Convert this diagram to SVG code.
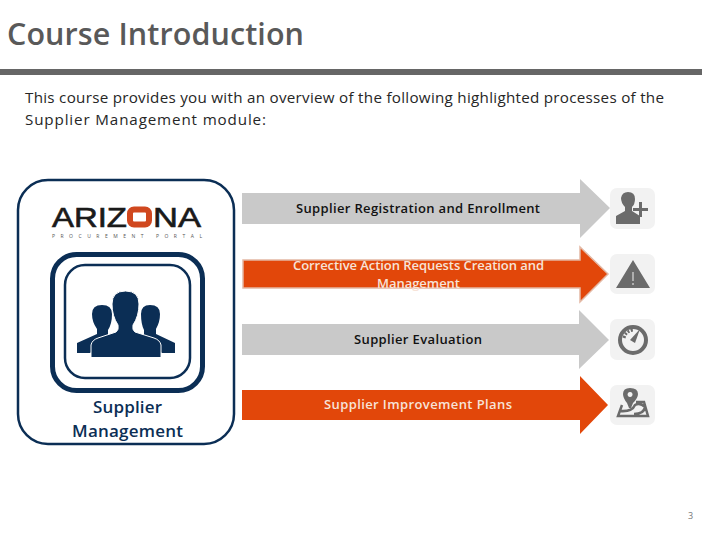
<svg xmlns="http://www.w3.org/2000/svg" width="720" height="540" viewBox="0 0 720 540">
<style>
text{font-family:"Open Sans","Noto Sans","DejaVu Sans",sans-serif}
.body{font-size:15.2px;fill:#262626}
.lab{font-size:13px;font-weight:600}
.logo{font-family:"Liberation Sans",Arial,sans-serif;font-size:27px;font-weight:400;fill:#1a1a1a;stroke:#1a1a1a;stroke-width:.6}
.navy{fill:#0b2e55}
.ic{fill:#6b6b6b}
.tile{fill:#f2f2f2}
.sm{font-size:17px;font-weight:600;fill:#0b2e55}
</style>
<rect width="720" height="540" fill="#fff"/>
<text x="7" y="45" font-size="30.500" font-weight="600" fill="#595959" textLength="297" lengthAdjust="spacing">Course Introduction</text>
<rect x="0" y="69" width="702" height="6" fill="#666"/>
<text class="body" x="25" y="103" textLength="639">This course provides you with an overview of the following highlighted processes of the</text>
<text class="body" x="25" y="125" textLength="241">Supplier Management module:</text>
<g id="module">
<rect x="18" y="180" width="216" height="264" rx="30" fill="#fff" stroke="#0b2e55" stroke-width="2.5"/>
<text class="logo" x="52" y="227" textLength="75" lengthAdjust="spacingAndGlyphs">ARIZ</text>
<rect x="130" y="209.500" width="19" height="15" rx="4" fill="none" stroke="#d0481f" stroke-width="6"/>
<text class="logo" x="153" y="227" textLength="48" lengthAdjust="spacingAndGlyphs">NA</text>
<text x="52" y="238" font-size="5" fill="#555" textLength="150">PROCUREMENT PORTAL</text>
<rect x="52.500" y="254.500" width="150" height="136" rx="24" fill="#fff" stroke="#0b2e55" stroke-width="5"/>
<rect x="65" y="265" width="125" height="113" rx="20" fill="#fff" stroke="#0b2e55" stroke-width="2.500"/>
<path class="navy" d="M77 353V343L97 334V329Q92 322 92 314Q92 305 102 305Q112 305 112 314Q112 324 108 330V340L90 353ZM175 353V343L156 334V329Q160 322 160 314Q160 305 150 305Q141 305 141 314Q141 324 144 330V340L162 353Z"/>
<path class="navy" stroke="#fff" stroke-width="1" d="M91 357.500V345Q92 340 98 338L116 332Q119 330 118 325Q112 316 112 304Q112 291 125.500 291Q139 291 139 304Q139 316 133 325Q132 330 135 332L154 338Q160 340 161 345V357.500Z"/>
<text class="sm" x="93" y="413" textLength="69">Supplier</text>
<text class="sm" x="72" y="437" textLength="111">Management</text>
</g>
<g id="connectors">
<path d="M242 193H580V179L610 208L580 238V224H242Z" fill="#c9c9c9"/>
<path d="M243 260H580V247L608 274L580 302V288H243Z" fill="#e2470a" stroke="#e3b8a4" stroke-width="1.500"/>
<path d="M242 324H579V310L609 340L579 369V355H242Z" fill="#c9c9c9"/>
<path d="M242 390H580V376L608 405L580 434V420H242Z" fill="#e2470a"/>
</g>
<g id="step1"><text class="lab" x="296" y="213" fill="#111" textLength="244">Supplier Registration and Enrollment</text>
<rect class="tile" x="610" y="188" width="45" height="41" rx="7"/>
<path class="ic" d="M616 224V216L625 211V207Q621 203 621 198Q622 192 628 192Q635 192 635 199Q635 204 632 207V211L640 216V224Z"/>
<path class="ic" d="M639 202h3v6h6v3h-6v6h-3v-6h-6v-3h6z"/></g>
<g id="step2"><text class="lab" x="293" y="270" fill="#f7e3d8" textLength="251">Corrective Action Requests Creation and</text>
<text class="lab" x="377" y="288" fill="#f7e3d8" textLength="83">Management</text>
<rect class="tile" x="610" y="254" width="45" height="40" rx="7"/>
<path class="ic" fill-rule="evenodd" d="M633 260L650 288H616ZM632.500 272V281H633.500V272ZM632.500 283V285H633.500V283Z"/></g>
<g id="step3"><text class="lab" x="354" y="344" fill="#111" textLength="128">Supplier Evaluation</text>
<rect class="tile" x="610" y="319" width="45" height="41" rx="7"/>
<circle cx="633" cy="340" r="13" fill="none" stroke="#6b6b6b" stroke-width="4"/>
<path class="ic" d="M640 329L635 343L630 340Z"/>
<path d="M624 338Q626 331 633 330" fill="none" stroke="#6b6b6b" stroke-width="3" stroke-dasharray="2 1.500"/></g>
<g id="step4"><text class="lab" x="324" y="409" fill="#f7e3d8" textLength="188">Supplier Improvement Plans</text>
<rect class="tile" x="610" y="385" width="45" height="40" rx="7"/>
<path class="ic" fill-rule="evenodd" d="M630 388Q638 388 638 394Q638 398 633 403L631 408H629L627 403Q623 398 623 394Q623 388 630 388ZM630 392A2.500 2.500 0 1 0 630.100 392Z"/>
<path d="M622 405L618 416H648L644 402H636M620 411Q632 412 635 405Q640 402 645 407Q644 414 634 414" fill="none" stroke="#6b6b6b" stroke-width="2.500"/></g>
<text x="688" y="519" font-size="9" fill="#777">3</text>
</svg>
